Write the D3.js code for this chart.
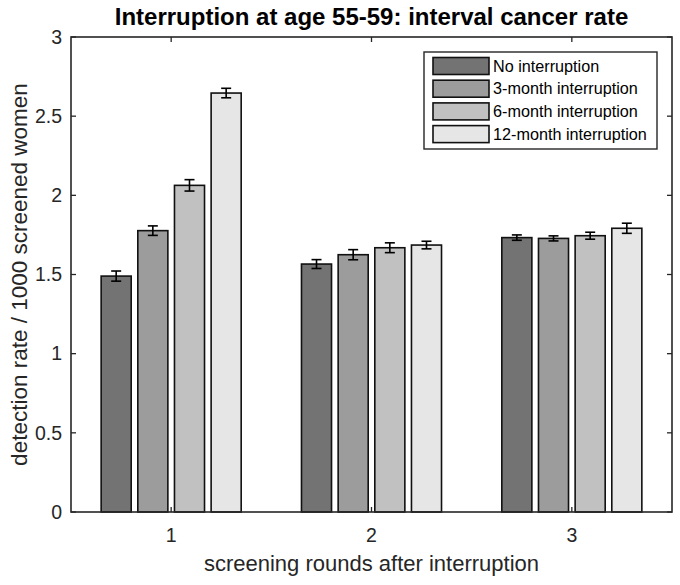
<!DOCTYPE html>
<html><head><meta charset="utf-8">
<script src="https://cdn.jsdelivr.net/npm/d3@7"></script>
<style>body{margin:0;background:#fff}svg{display:block}text{font-family:"Liberation Sans",Arial,sans-serif}</style>
</head><body><svg id="c" width="680" height="585"></svg>
<script>
const rounds = [1, 2, 3];
const seriesNames = ["No interruption", "3-month interruption", "6-month interruption", "12-month interruption"];
const noInterruption = [1.49, 1.566, 1.733];
const month3 = [1.777, 1.625, 1.728];
const month6 = [2.063, 1.669, 1.745];
const month12 = [2.646, 1.686, 1.792];
const errNo = [0.032, 0.028, 0.017];
const err3 = [0.030, 0.032, 0.016];
const err6 = [0.036, 0.031, 0.022];
const err12 = [0.030, 0.024, 0.032];
const yTicks = [0, 0.5, 1, 1.5, 2, 2.5, 3];
const colors = ["#737373", "#9c9c9c", "#c1c1c1", "#e6e6e6"];

const values = [noInterruption, month3, month6, month12];
const errs = [errNo, err3, err6, err12];

const svg = d3.select("#c");
const L = 71, R = 672, T = 37, B = 512;
const x = d3.scaleLinear().domain([0.5, 3.5]).range([L, R]);
const y = d3.scaleLinear().domain([0, 3]).range([B, T]);
const axisCol = "#262626";
const pitch = 0.183, bw = 0.15;

// ticks (inward, all four sides)
const g = svg.append("g");
yTicks.forEach(t => {
  g.append("line").attr("x1", L).attr("x2", L + 5).attr("y1", y(t)).attr("y2", y(t)).attr("stroke", axisCol).attr("stroke-width", 1.3);
  g.append("line").attr("x1", R).attr("x2", R - 5).attr("y1", y(t)).attr("y2", y(t)).attr("stroke", axisCol).attr("stroke-width", 1.3);
});
rounds.forEach(r => {
  g.append("line").attr("x1", x(r)).attr("x2", x(r)).attr("y1", B).attr("y2", B - 5).attr("stroke", axisCol).attr("stroke-width", 1.3);
  g.append("line").attr("x1", x(r)).attr("x2", x(r)).attr("y1", T).attr("y2", T + 5).attr("stroke", axisCol).attr("stroke-width", 1.3);
});

// bars
values.forEach((vals, si) => {
  const off = (si - 1.5) * pitch;
  vals.forEach((v, i) => {
    const cx = rounds[i] + off;
    svg.append("rect")
      .attr("x", x(cx - bw / 2)).attr("width", x(cx + bw / 2) - x(cx - bw / 2))
      .attr("y", y(v)).attr("height", y(0) - y(v))
      .attr("fill", colors[si]).attr("stroke", "#111").attr("stroke-width", 1.6);
    const e = errs[si][i];
    const px = x(cx);
    svg.append("line").attr("x1", px).attr("x2", px).attr("y1", y(v + e)).attr("y2", y(v - e)).attr("stroke", "#000").attr("stroke-width", 1.6);
    [v + e, v - e].forEach(w => svg.append("line").attr("x1", px - 5).attr("x2", px + 5).attr("y1", y(w)).attr("y2", y(w)).attr("stroke", "#000").attr("stroke-width", 1.6));
  });
});

// box
svg.append("rect").attr("x", L).attr("y", T).attr("width", R - L).attr("height", B - T)
  .attr("fill", "none").attr("stroke", axisCol).attr("stroke-width", 1.6);

// tick labels
yTicks.forEach(t => svg.append("text").attr("x", L - 9).attr("y", y(t)).attr("dy", "0.35em")
  .attr("text-anchor", "end").attr("font-size", 19.5).attr("fill", axisCol).text(t));
rounds.forEach(r => svg.append("text").attr("x", x(r)).attr("y", 542)
  .attr("text-anchor", "middle").attr("font-size", 19.5).attr("fill", axisCol).text(r));

// axis labels & title
svg.append("text").attr("x", (L + R) / 2).attr("y", 571).attr("text-anchor", "middle")
  .attr("font-size", 22).attr("fill", axisCol).text("screening rounds after interruption");
svg.append("text").attr("transform", `translate(27,${(T + B) / 2}) rotate(-90)`).attr("text-anchor", "middle")
  .attr("font-size", 22.5).attr("fill", axisCol).text("detection rate / 1000 screened women");
svg.append("text").attr("x", (L + R) / 2).attr("y", 25).attr("text-anchor", "middle")
  .attr("font-size", 24).attr("font-weight", "bold").attr("fill", "#000").text("Interruption at age 55-59: interval cancer rate");

// legend
const lg = svg.append("g");
lg.append("rect").attr("x", 424).attr("y", 52).attr("width", 233).attr("height", 97)
  .attr("fill", "#fff").attr("stroke", axisCol).attr("stroke-width", 1.4);
seriesNames.forEach((n, i) => {
  const yy = 57.5 + i * 22.7;
  lg.append("rect").attr("x", 433).attr("y", yy).attr("width", 56).attr("height", 17)
    .attr("fill", colors[i]).attr("stroke", "#111").attr("stroke-width", 1.6);
  lg.append("text").attr("x", 493).attr("y", yy + 8.5).attr("dy", "0.35em")
    .attr("font-size", 16.2).attr("fill", "#000").text(n);
});
</script></body></html>
